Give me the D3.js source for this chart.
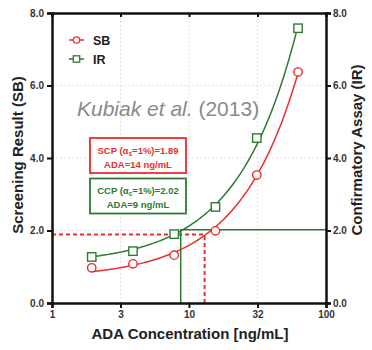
<!DOCTYPE html>
<html>
<head>
<meta charset="utf-8">
<script src="https://cdn.jsdelivr.net/npm/d3@7"></script>
<style>
  body { margin: 0; background: #fff; }
  text { font-family: "Liberation Sans", Arial, sans-serif; }
</style>
</head>
<body>
<div id="chart"></div>
<script>
// concentrations (ng/mL), two-fold dilution series
const concentrations = [1.95, 3.9, 7.8, 15.6, 31.25, 62.5];
const sbValues = [0.97, 1.08, 1.32, 1.99, 3.53, 6.37];
const irValues = [1.27, 1.43, 1.90, 2.65, 4.55, 7.58];
const xTicks = [1, Math.sqrt(10), 10, Math.sqrt(1000), 100];
const xTickLabels = ['1', '3', '10', '32', '100'];
const yTicks = [0, 2, 4, 6, 8];
// cut points and where they hit the fitted lines
const scp = 1.89, scpConc = 13.0;
const ccp = 2.02, ccpConc = 8.7;

const W = 372, H = 350;
const margin = {top: 13, right: 46, bottom: 47, left: 52};
const width = W - margin.left - margin.right;
const height = H - margin.top - margin.bottom;

const red = '#ee2d2d', green = '#2e7a34';

const svg = d3.select('#chart').append('svg').attr('width', W).attr('height', H);
const g = svg.append('g').attr('transform', `translate(${margin.left},${margin.top})`);

const x = d3.scaleLog().domain([1, 100]).range([0, width]);
const y = d3.scaleLinear().domain([0, 8]).range([height, 0]);

// grid
g.selectAll('.hgrid').data(yTicks.slice(1, -1)).enter().append('line')
    .attr('x1', 0).attr('x2', width)
    .attr('y1', d => y(d)).attr('y2', d => y(d))
    .attr('stroke', '#dfe3ee').attr('stroke-width', 1).attr('stroke-dasharray', '2,2');
g.selectAll('.vgrid').data(xTicks.slice(1, -1)).enter().append('line')
    .attr('y1', 0).attr('y2', height)
    .attr('x1', d => x(d)).attr('x2', d => x(d))
    .attr('stroke', '#dfe3ee').attr('stroke-width', 1).attr('stroke-dasharray', '2,2');

// linear regression in concentration space (looks curved on log x)
function fit(xs, ys) {
    const mx = d3.mean(xs), my = d3.mean(ys);
    const sxy = d3.sum(xs, (v, i) => (v - mx) * (ys[i] - my));
    const sxx = d3.sum(xs, v => (v - mx) * (v - mx));
    const b = sxy / sxx;
    return {a: my - b * mx, b: b};
}
function fitLine(xs, ys) {
    const f = fit(xs, ys);
    const lo = d3.min(xs), hi = d3.max(xs);
    const pts = d3.range(0, 101).map(i => {
        const c = lo * Math.pow(hi / lo, i / 100);
        return [c, f.a + f.b * c];
    });
    return d3.line().x(d => x(d[0])).y(d => y(d[1]))(pts);
}

// cut-point guide lines
g.append('path')
    .attr('d', `M0,${y(scp)}H${x(scpConc)}V${height}`)
    .attr('fill', 'none').attr('stroke', red).attr('stroke-width', 2)
    .attr('stroke-dasharray', '4,3');
g.append('path')
    .attr('d', `M${width},${y(ccp)}H${x(ccpConc)}V${height}`)
    .attr('fill', 'none').attr('stroke', green).attr('stroke-width', 1.5);

// fitted curves
g.append('path').attr('d', fitLine(concentrations, sbValues))
    .attr('fill', 'none').attr('stroke', red).attr('stroke-width', 1.5);
g.append('path').attr('d', fitLine(concentrations, irValues))
    .attr('fill', 'none').attr('stroke', green).attr('stroke-width', 1.5);

// markers
g.selectAll('.sb').data(concentrations).enter().append('circle')
    .attr('cx', d => x(d)).attr('cy', (d, i) => y(sbValues[i])).attr('r', 4.2)
    .attr('fill', '#fff').attr('stroke', red).attr('stroke-width', 1.4);
g.selectAll('.ir').data(concentrations).enter().append('rect')
    .attr('x', d => x(d) - 4.2).attr('y', (d, i) => y(irValues[i]) - 4.2)
    .attr('width', 8.4).attr('height', 8.4)
    .attr('fill', '#fff').attr('stroke', green).attr('stroke-width', 1.4);

// axes
const tickFont = sel => sel.selectAll('text')
    .style('font-size', '10px').style('font-weight', 'bold').attr('fill', '#333');
const styleAxis = sel => {
    sel.select('.domain').attr('stroke', '#111').attr('stroke-width', 2.5);
    sel.selectAll('.tick line').attr('stroke', '#111').attr('stroke-width', 2);
    tickFont(sel);
};

g.append('g').attr('transform', `translate(0,${height})`)
    .call(d3.axisBottom(x).tickValues(xTicks).tickFormat((d, i) => xTickLabels[i])
        .tickSizeOuter(0).tickSize(5).tickPadding(3))
    .call(styleAxis);
g.append('g')
    .call(d3.axisTop(x).tickValues(xTicks).tickFormat('').tickSizeOuter(0).tickSize(-4))
    .call(styleAxis);
g.append('g')
    .call(d3.axisLeft(y).tickValues(yTicks).tickFormat(d3.format('.1f'))
        .tickSizeOuter(0).tickSize(5).tickPadding(3))
    .call(styleAxis);
g.append('g').attr('transform', `translate(${width},0)`)
    .call(d3.axisRight(y).tickValues(yTicks).tickFormat(d3.format('.1f'))
        .tickSizeOuter(0).tickSize(5).tickPadding(2))
    .call(styleAxis);

// axis titles
svg.append('text').attr('x', 190).attr('y', 339).attr('text-anchor', 'middle')
    .style('font-size', '15px').style('font-weight', 'bold').attr('fill', '#222')
    .text('ADA Concentration [ng/mL]');
svg.append('text').attr('transform', 'translate(23,155) rotate(-90)').attr('text-anchor', 'middle')
    .style('font-size', '15px').style('font-weight', 'bold').attr('fill', '#222')
    .text('Screening Result (SB)');
svg.append('text').attr('transform', 'translate(362,150) rotate(-90)').attr('text-anchor', 'middle')
    .style('font-size', '15px').style('font-weight', 'bold').attr('fill', '#222')
    .text('Confirmatory Assay (IR)');

// legend
const legend = [{name: 'SB', color: red, shape: 'circle'}, {name: 'IR', color: green, shape: 'square'}];
const lg = svg.selectAll('.legend').data(legend).enter().append('g')
    .attr('transform', (d, i) => `translate(69,${40 + i * 19})`);
lg.append('line').attr('x1', 0).attr('x2', 15).attr('stroke', d => d.color).attr('stroke-width', 1.5);
lg.each(function (d) {
    const s = d3.select(this);
    if (d.shape === 'circle') {
        s.append('circle').attr('cx', 7.5).attr('r', 3.2)
            .attr('fill', '#fff').attr('stroke', d.color).attr('stroke-width', 1.3);
    } else {
        s.append('rect').attr('x', 4.3).attr('y', -3.2).attr('width', 6.4).attr('height', 6.4)
            .attr('fill', '#fff').attr('stroke', d.color).attr('stroke-width', 1.3);
    }
});
lg.append('text').attr('x', 24).attr('y', 4.5).text(d => d.name)
    .style('font-size', '12.5px').style('font-weight', 'bold').attr('fill', '#222');

// citation
const cite = svg.append('text').attr('x', 77).attr('y', 116)
    .style('font-size', '21px').attr('fill', '#8a8a8a');
cite.append('tspan').style('font-style', 'italic').text('Kubiak et al');
cite.append('tspan').style('font-style', 'italic').text('.');
cite.append('tspan').text(' (2013)');

// cut-point boxes
function box(y0, color, sub, cp, ada) {
    svg.append('rect').attr('x', 90).attr('y', y0).attr('width', 96).attr('height', 35)
        .attr('fill', '#fff').attr('stroke', color).attr('stroke-width', 1.8);
    const t = svg.append('text').attr('x', 138).attr('y', y0 + 15.5).attr('text-anchor', 'middle')
        .style('font-size', '9.5px').style('font-weight', 'bold').attr('fill', color);
    t.append('tspan').text(sub[0] + ' (\u03b1');
    t.append('tspan').attr('dy', 2).style('font-size', '6.5px').text(sub[1]);
    t.append('tspan').attr('dy', -2).text('=1%)=' + cp.toFixed(2));
    svg.append('text').attr('x', 138).attr('y', y0 + 29.5).attr('text-anchor', 'middle')
        .style('font-size', '9.5px').style('font-weight', 'bold').attr('fill', color)
        .text('ADA=' + ada + ' ng/mL');
}
box(138, red, ['SCP', 's'], scp, 14);
box(178.5, green, ['CCP', 'c'], ccp, 9);
</script>
</body>
</html>
